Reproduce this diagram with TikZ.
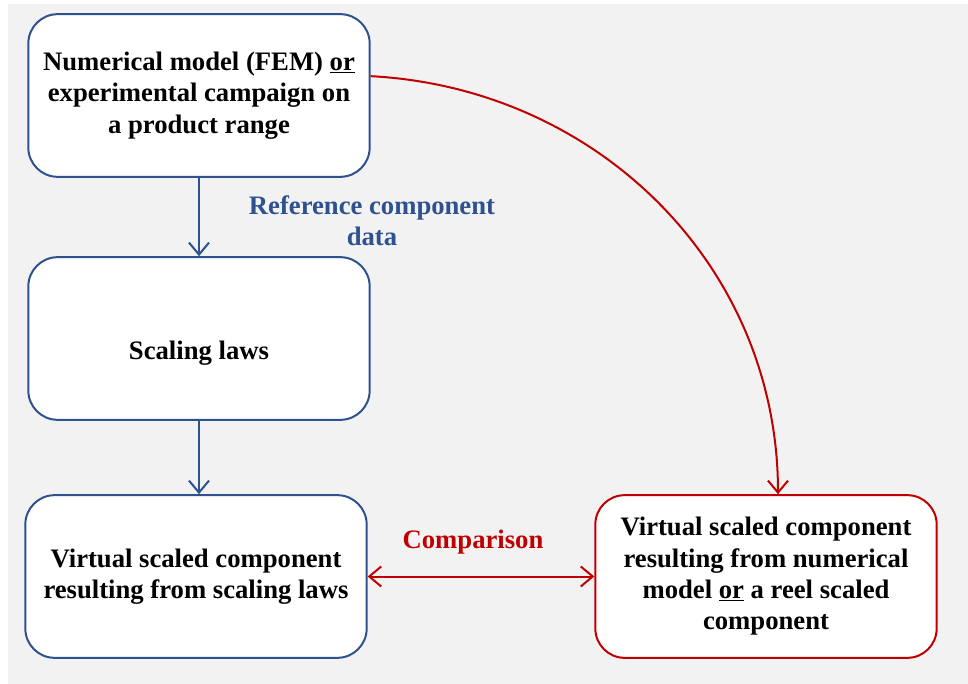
\documentclass[tikz,border=0pt]{standalone}
\usepackage{fontspec}
\setmainfont{Liberation Serif}
\usepackage{tikz}
\usetikzlibrary{arrows.meta}
\definecolor{boxblue}{RGB}{47,82,143}
\definecolor{boxred}{RGB}{192,0,0}
\definecolor{backgray}{RGB}{242,242,242}
\tikzstyle{box}=[draw, line width=1.5pt, fill=white, rounded corners=22pt, minimum width=256pt, minimum height=122pt, align=center, inner sep=2pt, font=\bfseries\fontsize{20}{23.5}\selectfont]
\tikzstyle{bluebox}=[box, draw=boxblue]
\tikzstyle{redbox}=[box, draw=boxred]
\tikzstyle{barb>}=[-{Straight Barb[length=9pt,width=15pt]}, line width=1.5pt]
\tikzstyle{<barb>}=[{Straight Barb[length=9pt,width=15pt]}-{Straight Barb[length=9pt,width=15pt]}, line width=1.5pt]
\tikzstyle{tag}=[font=\bfseries\fontsize{20}{23.5}\selectfont, align=center]

\begin{document}
\begin{tikzpicture}[x=0.75pt, y=-0.75pt]
\useasboundingbox (0,0) rectangle (968,684);
\fill[backgray] (8,4) rectangle (968,684);
\node[bluebox] (model) at (199,95.5) {Numerical model (FEM) \underline{or}\\experimental campaign on\\a product range};
\node[bluebox] (laws) at (199,338.5) {\raisebox{-9pt}[\height][0pt]{Scaling laws}};
\node[bluebox] (virtual) at (196,576.5) {Virtual scaled component\\resulting from scaling laws};
\node[redbox] (real) at (766,576.5) {Virtual scaled component\\resulting from numerical\\model \underline{or} a reel scaled\\component};
\draw[barb>, boxblue] (model.south) -- (laws.north);
\draw[barb>, boxblue] (laws.south) -- (laws.south |- virtual.north);
\node[tag, text=boxblue] (refdata) at (372,221) {Reference component\\data};
\draw[<barb>, boxred] (virtual.east) -- (real.west);
\node[tag, text=boxred] (comparison) at (473,542) {Comparison};
\draw[barb>, boxred] ([yshift=14.5pt]model.east) to[out=-3,in=90] ([xshift=9pt]real.north);
\end{tikzpicture}
\end{document}
